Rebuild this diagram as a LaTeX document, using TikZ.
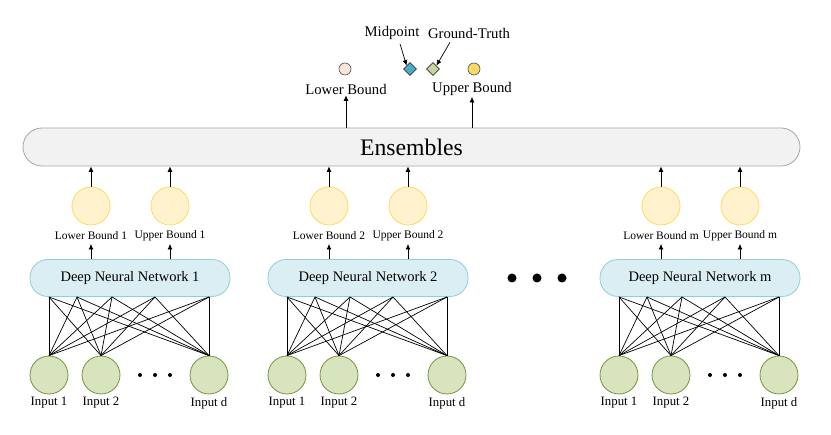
\documentclass[tikz,border=0pt]{standalone}
\usepackage{fontspec}
\setmainfont{Liberation Serif}
\usetikzlibrary{arrows.meta,shapes.geometric}

\definecolor{ensfill}{HTML}{F2F2F2}
\definecolor{ensdraw}{HTML}{A6A6A6}
\definecolor{dnnfill}{HTML}{DAEEF3}
\definecolor{dnndraw}{HTML}{92CDDC}
\definecolor{boundfill}{HTML}{FFF2CC}
\definecolor{bounddraw}{HTML}{FFD966}
\definecolor{inputfill}{HTML}{D7E4BD}
\definecolor{inputdraw}{HTML}{77933C}
\definecolor{lowfill}{HTML}{FBE5D6}
\definecolor{midfill}{HTML}{4BACC6}
\definecolor{gtfill}{HTML}{C3D69B}
\definecolor{upfill}{HTML}{FFD966}

\tikzset{
  arr/.style={-{Latex[length=5.5pt,width=5pt]}, line width=0.7pt},
  dnnbox/.style={rounded corners=18pt, draw=dnndraw, fill=dnnfill, line width=0.8pt,
    minimum width=200pt, minimum height=37pt, font=\fontsize{14.5}{16}\selectfont},
  boundnode/.style={circle, draw=bounddraw, fill=boundfill, line width=0.8pt, minimum size=38pt, inner sep=0pt},
  inputnode/.style={circle, draw=inputdraw, fill=inputfill, line width=0.8pt, minimum size=38pt, inner sep=0pt},
  boundlabel/.style={font=\fontsize{11.5}{13}\selectfont, inner sep=1pt},
  inputlabel/.style={font=\fontsize{12.8}{14}\selectfont, inner sep=1pt},
  toplabel/.style={font=\fontsize{14.7}{16}\selectfont, inner sep=1pt},
  smalldot/.style={circle, fill=black, inner sep=0pt, minimum size=4pt},
  bigdot/.style={circle, fill=black, inner sep=0pt, minimum size=9pt}
}

\begin{document}
\begin{tikzpicture}[x=1pt, y=-1pt]
  \useasboundingbox (0,0) rectangle (831,435);

  % ensemble bar
  \node[draw=ensdraw, fill=ensfill, line width=0.8pt, rounded corners=19pt,
        minimum width=777pt, minimum height=38pt, font=\fontsize{23.7}{26}\selectfont]
        (ens) at (411.5,147) {Ensembles};

  % final outputs
  \node[circle, draw=black!70, fill=lowfill, line width=0.6pt, minimum size=12pt, inner sep=0pt] (lowc) at (345,69) {};
  \node[diamond, draw=black!80, fill=midfill, line width=0.6pt, minimum size=13pt, inner sep=0pt] (midd) at (410,69) {};
  \node[diamond, draw=black!80, fill=gtfill, line width=0.6pt, minimum size=13pt, inner sep=0pt] (gtd) at (433,69) {};
  \node[circle, draw=black!70, fill=upfill, line width=0.6pt, minimum size=12pt, inner sep=0pt] (upc) at (474,69) {};
  \node[toplabel] (lowlab) at (346,89) {Lower Bound};
  \node[toplabel] (uplab) at (472,89) {Upper Bound};
  \node[toplabel] (midlab) at (392,33) {Midpoint};
  \node[toplabel] (gtlab) at (469,33) {Ground-Truth};
  \draw[arr] (midlab.south) ++(8,3) coordinate (m0) -- (midd.north west);
  \draw[arr] (gtlab.south) ++(-19,3) coordinate (g0) -- (gtd.north east);
  \draw[arr] (ens.north -| lowlab) -- (lowlab.south);
  \draw[arr] (ens.north -| uplab) -- (uplab.south);

  % networks
  \foreach \g/\dx in {1/0, 2/238, m/570} {
    \node[dnnbox] (dnn\g) at (130+\dx,278) {Deep Neural Network \g};
    \node[boundnode] (lb\g) at (91+\dx,206) {};
    \node[boundnode] (ub\g) at (170+\dx,206) {};
    \node[boundlabel] (lbl\g) at (91+\dx,236) {Lower Bound \g};
    \node[boundlabel] (ubl\g) at (170+\dx,236) {Upper Bound \g};
    \draw[arr] (dnn\g.north -| lbl\g) -- (lbl\g.north |- 0,244);
    \draw[arr] (dnn\g.north -| ubl\g) -- (ubl\g.north |- 0,244);
    \draw[arr] (lb\g.north) -- (lb\g |- ens.south);
    \draw[arr] (ub\g.north) -- (ub\g |- ens.south);
    \node[inputnode] (in1\g) at (49+\dx,375) {};
    \node[inputnode] (in2\g) at (101+\dx,375) {};
    \node[inputnode] (ind\g) at (209+\dx,375) {};
    \node[inputlabel] (inl1\g) at (49+\dx,403) {Input 1};
    \node[inputlabel] (inl2\g) at (101+\dx,403) {Input 2};
    \node[inputlabel] (inld\g) at (209+\dx,403) {Input d};
    \node[smalldot] (d1\g) at (140+\dx,375) {};
    \node[smalldot] (d2\g) at (155+\dx,375) {};
    \node[smalldot] (d3\g) at (170+\dx,375) {};
    % full connections
    \foreach \t in {49,77,112,155,209} {
      \coordinate (top\g\t) at (\t+\dx,297);
      \draw[line width=0.7pt] (top\g\t) -- (in1\g.north);
      \draw[line width=0.7pt] (top\g\t) -- (in2\g.north);
      \draw[line width=0.7pt] (top\g\t) -- (ind\g.north);
    }
  }

  % more networks
  \node[bigdot] (bd1) at (512,278) {};
  \node[bigdot] (bd2) at (537,278) {};
  \node[bigdot] (bd3) at (562,278) {};
\end{tikzpicture}
\end{document}
